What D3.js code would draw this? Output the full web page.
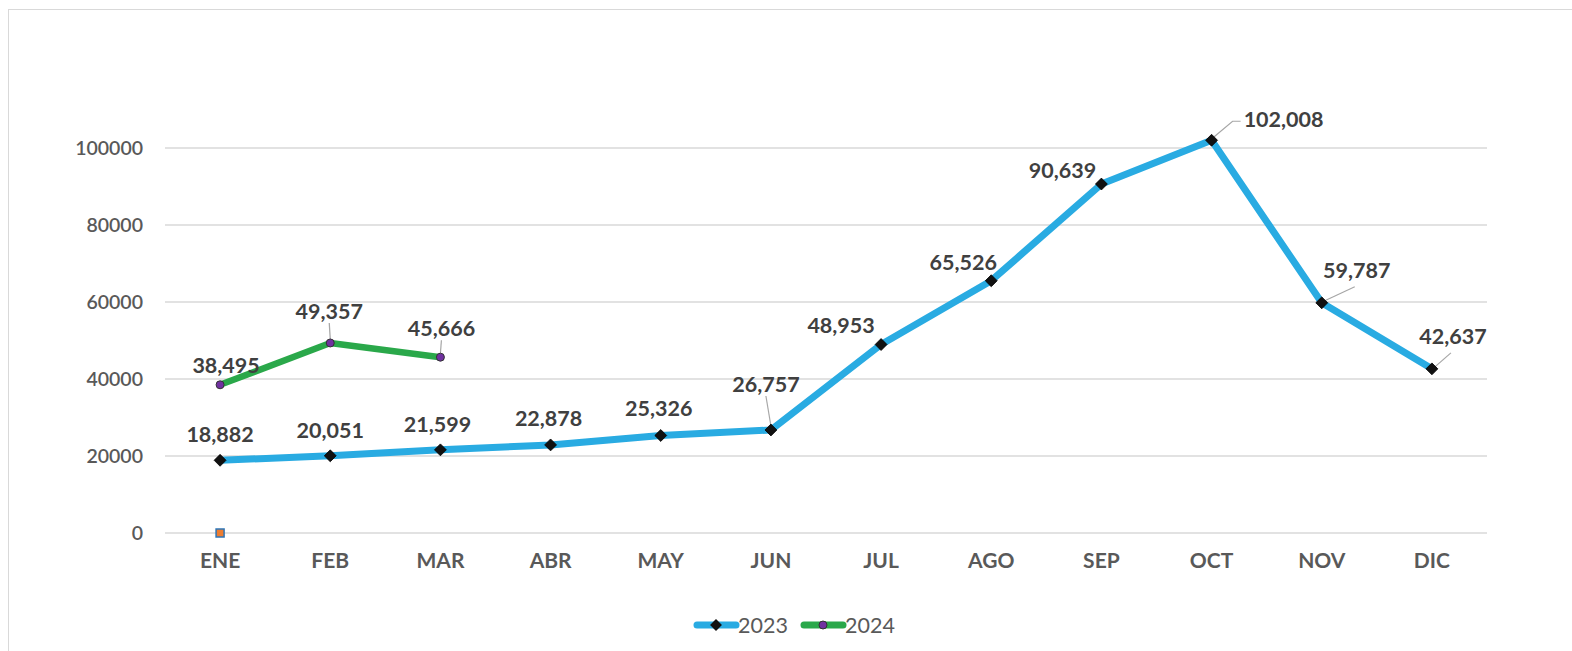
<!DOCTYPE html>
<html>
<head>
<meta charset="utf-8">
<script src="https://cdn.jsdelivr.net/npm/d3@7"></script>
<style>
  body { margin: 0; background: #fff; }
  svg { display: block; font-family: Lato, "Open Sans", sans-serif; }
</style>
</head>
<body>
<svg id="chart"></svg>
<script>
// Chart data
const months = ['ENE', 'FEB', 'MAR', 'ABR', 'MAY', 'JUN', 'JUL', 'AGO', 'SEP', 'OCT', 'NOV', 'DIC'];
const values2023 = [18882, 20051, 21599, 22878, 25326, 26757, 48953, 65526, 90639, 102008, 59787, 42637];
const values2024 = [38495, 49357, 45666];
const extraPoint = [0]; // stray marker at ENE, value 0
const yTicks = [0, 20000, 40000, 60000, 80000, 100000];

// Label offsets from each point (dx, dy of label center/baseline), leader flag
const labelPos2023 = [
  [0, -18, false], [0, -18, false], [-3, -18, false], [-2, -19, false], [-2, -19, false],
  [-5, -38, true], [-40, -12, false], [-28, -11, false], [-39, -6, false],
  [72, -13, true], [35, -25, true], [21, -25, true]
];
const labelPos2024 = [[6, -12, false], [-1, -24, true], [1, -21, true]];

const width = 1572;
const height = 651;
const margin = { left: 165, right: 85, top: 148, bottom: 118 };

const svg = d3.select('#chart').attr('width', width).attr('height', height);

// Outer frame
svg.append('rect')
  .attr('x', 8.5).attr('y', 9.5)
  .attr('width', width).attr('height', height)
  .attr('fill', 'none').attr('stroke', '#d9d9d9');

const x = d3.scaleBand()
  .domain(months)
  .range([margin.left, width - margin.right]);

const y = d3.scaleLinear()
  .domain([0, 100000])
  .range([height - margin.bottom, margin.top]);

const cx = d => x(d) + x.bandwidth() / 2;

// Gridlines
svg.append('g')
  .selectAll('line')
  .data(yTicks)
  .enter()
  .append('line')
  .attr('x1', margin.left).attr('x2', width - margin.right)
  .attr('y1', d => y(d)).attr('y2', d => y(d))
  .attr('stroke', '#d9d9d9').attr('stroke-width', 1.3);

// Y axis labels
const yAxis = svg.append('g')
  .attr('transform', 'translate(' + (margin.left - 22) + ',0)')
  .call(d3.axisLeft(y).tickValues(yTicks).tickFormat(d3.format('d')).tickSize(0).tickPadding(0));
yAxis.select('.domain').remove();
yAxis.selectAll('text')
  .attr('font-size', 19.5).attr('font-weight', 600)
  .attr('font-family', 'Lato, sans-serif')
  .attr('fill', '#595959');

// X axis labels
const xAxis = svg.append('g')
  .attr('transform', 'translate(0,' + (height - margin.bottom) + ')')
  .call(d3.axisBottom(x).tickSize(0).tickPadding(20));
xAxis.select('.domain').remove();
xAxis.selectAll('text')
  .attr('font-size', 21).attr('font-weight', 700)
  .attr('font-family', 'Lato, sans-serif')
  .attr('fill', '#595959');

// Lines
const line = d3.line()
  .x((d, i) => cx(months[i]))
  .y(d => y(d));

svg.append('path')
  .datum(values2023)
  .attr('d', line)
  .attr('fill', 'none')
  .attr('stroke', '#29abe2')
  .attr('stroke-width', 7)
  .attr('stroke-linejoin', 'round');

svg.append('path')
  .datum(values2024)
  .attr('d', line)
  .attr('fill', 'none')
  .attr('stroke', '#2aa84a')
  .attr('stroke-width', 6.5)
  .attr('stroke-linejoin', 'round');

// Leader lines
function leader(g, px, py, lx, ly, elbow) {
  const pts = elbow ? [[px, py], [lx - 8, ly], [lx, ly]] : [[px, py], [lx, ly]];
  g.append('path')
    .attr('d', d3.line()(pts))
    .attr('fill', 'none')
    .attr('stroke', '#a6a6a6')
    .attr('stroke-width', 1.2);
}
const leaders = svg.append('g');

// Markers 2023 (diamonds)
svg.append('g')
  .selectAll('path')
  .data(values2023)
  .enter()
  .append('path')
  .attr('transform', (d, i) => 'translate(' + cx(months[i]) + ',' + y(d) + ')')
  .attr('d', d3.symbol().type(d3.symbolDiamond2).size(90))
  .attr('fill', '#111')
  .attr('stroke', '#000')
  .attr('stroke-width', 0.8);

// Markers 2024 (circles)
svg.append('g')
  .selectAll('circle')
  .data(values2024)
  .enter()
  .append('circle')
  .attr('cx', (d, i) => cx(months[i]))
  .attr('cy', d => y(d))
  .attr('r', 4)
  .attr('fill', '#7030a0')
  .attr('stroke', '#333')
  .attr('stroke-width', 1);

// Stray orange square at zero
svg.append('g')
  .selectAll('rect')
  .data(extraPoint)
  .enter()
  .append('rect')
  .attr('x', (d, i) => cx(months[i]) - 4)
  .attr('y', d => y(d) - 4)
  .attr('width', 8).attr('height', 8)
  .attr('fill', '#ed7d31')
  .attr('stroke', '#2e75b6')
  .attr('stroke-width', 1.5);

// Data labels
const fmt = d3.format(',');
function drawLabels(values, pos) {
  values.forEach((v, i) => {
    const px = cx(months[i]);
    const py = y(v);
    const lx = px + pos[i][0];
    const ly = py + pos[i][1];
    if (pos[i][2]) {
      if (i === 9 && values === values2023) {
        leader(leaders, px + 2, py - 3, lx - 43, ly - 6, true);
      } else if (pos[i][0] > 10) {
        leader(leaders, px + 3, py - 2, lx - 2, ly + 9, false);
      } else {
        leader(leaders, px, py - 4, lx, ly + 4, false);
      }
    }
    svg.append('text')
      .attr('x', lx)
      .attr('y', ly)
      .attr('text-anchor', 'middle')
      .attr('font-size', 21.5)
      .attr('font-weight', 700)
      .attr('fill', '#404040')
      .text(fmt(v));
  });
}
drawLabels(values2023, labelPos2023);
drawLabels(values2024, labelPos2024);

// Legend
const legend = svg.append('g').attr('transform', 'translate(693,625)');
const items = [
  { name: '2023', color: '#29abe2', marker: 'diamond' },
  { name: '2024', color: '#2aa84a', marker: 'circle' }
];
items.forEach((it, i) => {
  const g = legend.append('g').attr('transform', 'translate(' + (i * 107) + ',0)');
  g.append('line')
    .attr('x1', 4).attr('x2', 43)
    .attr('stroke', it.color).attr('stroke-width', 7)
    .attr('stroke-linecap', 'round');
  if (it.marker === 'diamond') {
    g.append('path')
      .attr('transform', 'translate(23,0)')
      .attr('d', d3.symbol().type(d3.symbolDiamond2).size(90))
      .attr('fill', '#111');
  } else {
    g.append('circle')
      .attr('cx', 23).attr('r', 4)
      .attr('fill', '#7030a0').attr('stroke', '#333');
  }
  g.append('text')
    .attr('x', 45).attr('y', 8)
    .attr('font-size', 21.5)
    .attr('fill', '#595959')
    .text(it.name);
});
</script>
</body>
</html>
